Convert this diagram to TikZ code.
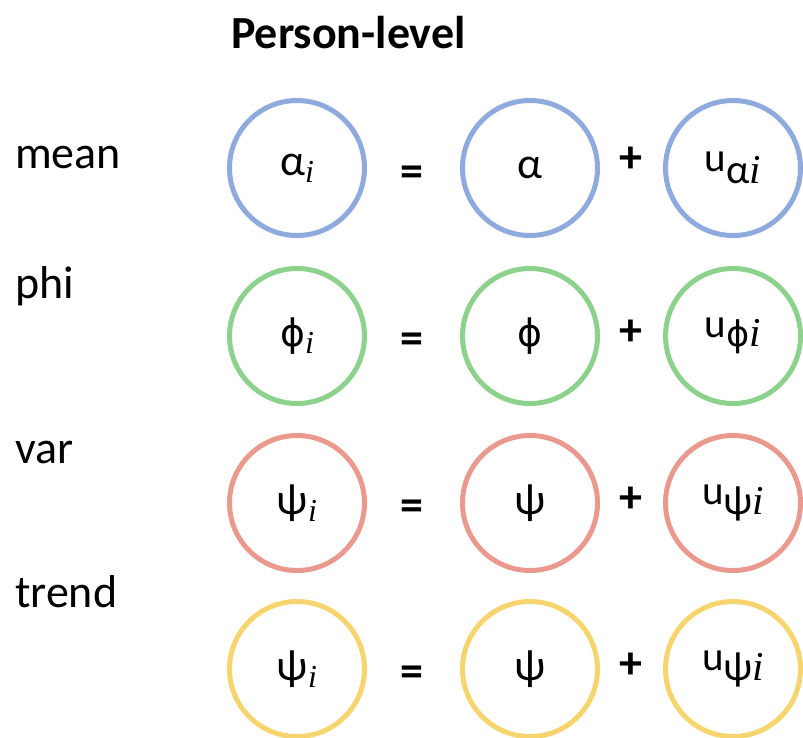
\documentclass[tikz,border=0pt]{standalone}
\usepackage{fontspec}
\setmainfont{Carlito}
\newfontfamily\phifont{DejaVu Sans}
\newfontfamily\idxfont{Liberation Serif}
\definecolor{meanblue}{RGB}{143,170,220}
\definecolor{phigreen}{RGB}{140,210,140}
\definecolor{varred}{RGB}{234,153,143}
\definecolor{trendyellow}{RGB}{247,213,110}
% index and subscript parts of the terms
\newcommand{\ii}{{\idxfont\itshape i}}
\newcommand{\idx}{\raisebox{-0.16em}{\fontsize{32}{36}\selectfont\ii}}
\newcommand{\lowr}[1]{\raisebox{-0.28em}{#1}}
\newcommand{\highu}{\raisebox{0.22em}{u}}
\newcommand{\ph}{{\phifont\fontsize{0.86em}{1em}\selectfont ϕ}}
\tikzset{
  term/.style={circle, draw=#1, line width=5pt, minimum size=135pt, inner sep=0pt,
    font=\fontsize{44}{50}\selectfont},
  devterm/.style={term=#1, font=\fontsize{41}{46}\selectfont},
  rowlabel/.style={anchor=base west, inner sep=0pt, font=\fontsize{46}{52}\selectfont},
  op/.style={inner sep=0pt, font=\bfseries\fontsize{46}{52}\selectfont},
}
\begin{document}
\begin{tikzpicture}[x=1pt, y=-1pt]
        \useasboundingbox (0,0) rectangle (803,737);
        \node[anchor=base west, inner sep=0pt, font=\bfseries\fontsize{46}{52}\selectfont] (title) at (231,48) {Person-level};
        % mean
        \node[rowlabel] (l0) at (15,168) {mean};
        \node[term=meanblue] (m0) at (297,168) {α\idx};
        \node[op] (e0) at (412,176) {=};
        \node[term=meanblue] (m1) at (530,168) {α};
        \node[op] (p0) at (631,160) {+};
        \node[devterm=meanblue] (m2) at (733,168) {u\lowr{α\ii}};
        % phi
        \node[rowlabel] (l1) at (15,298) {phi};
        \node[term=phigreen] (f0) at (297,336) {\ph\idx};
        \node[op] (e1) at (412,343) {=};
        \node[term=phigreen] (f1) at (530,336) {\ph};
        \node[op] (p1) at (631,333) {+};
        \node[devterm=phigreen] (f2) at (733,336) {\highu\ph\ii};
        % var
        \node[rowlabel] (l2) at (15,463) {var};
        \node[term=varred] (v0) at (297,503) {ψ\idx};
        \node[op] (e2) at (412,510) {=};
        \node[term=varred] (v1) at (530,503) {ψ};
        \node[op] (p2) at (631,500) {+};
        \node[devterm=varred] (v2) at (733,503) {\highu ψ\ii};
        % trend
        \node[rowlabel] (l3) at (15,607) {trend};
        \node[term=trendyellow] (t0) at (297,669) {ψ\idx};
        \node[op] (e3) at (412,676) {=};
        \node[term=trendyellow] (t1) at (530,669) {ψ};
        \node[op] (p3) at (631,666) {+};
        \node[devterm=trendyellow] (t2) at (733,669) {\highu ψ\ii};
\end{tikzpicture}
\end{document}
